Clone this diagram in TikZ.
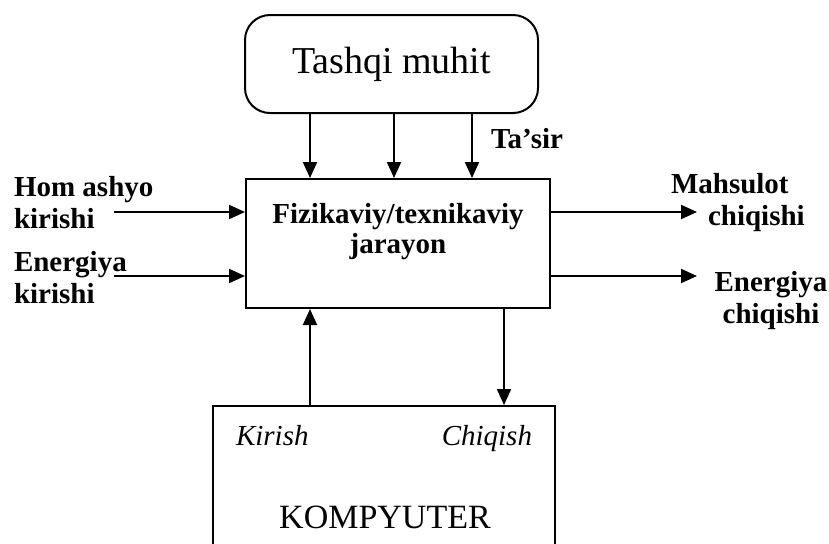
\documentclass[tikz,border=0pt]{standalone}
\usepackage{fontspec}
\setmainfont{Liberation Serif}
\usetikzlibrary{arrows.meta}

\begin{document}
\begin{tikzpicture}[x=0.5pt,y=-0.5pt,line width=1pt,
  flow/.style={-{Triangle[length=8pt,width=7pt]}},
  lbl/.style={font=\fontsize{14.5}{16}\selectfont\bfseries,inner sep=0pt}]
  \useasboundingbox (0,0) rectangle (829,543);

  \node[draw,rounded corners=12.5pt,minimum width=146.5pt,minimum height=49pt,
    font=\fontsize{19}{22}\selectfont] (env) at (391.5,64) {Tashqi muhit};
  \node[draw,minimum width=152pt,minimum height=64.5pt,align=center,text depth=15pt,
    font=\fontsize{14.5}{15}\selectfont\bfseries] (proc) at (398,243.5) {Fizikaviy/texnikaviy\\jarayon};
  \node[draw,minimum width=171pt,minimum height=92pt] (comp) at (384,498) {};

  % computer box texts
  \node[anchor=base west,font=\fontsize{14.5}{16}\selectfont\itshape,inner sep=0pt] (kir) at (235,445) {Kirish};
  \node[anchor=base east,font=\fontsize{14.5}{16}\selectfont\itshape,inner sep=0pt] (chiq) at (533,445) {Chiqish};
  \node[anchor=base,font=\fontsize{17}{20}\selectfont,inner sep=0pt] (kompy) at (385,528) {KOMPYUTER};

  % influence of the environment
  \draw[flow] (310,0 |- env.south) -- (310,0 |- proc.north);
  \draw[flow] (394,0 |- env.south) -- (394,0 |- proc.north);
  \draw[flow] (472,0 |- env.south) -- (472,0 |- proc.north);
  \node[lbl,anchor=base west] (tasir) at (490,148) {Ta'sir};

  % inputs
  \coordinate (in1) at (114,212);
  \coordinate (in2) at (114,276);
  \draw[flow] (in1) -- (in1 -| proc.west);
  \draw[flow] (in2) -- (in2 -| proc.west);
  \node[lbl,align=left,anchor=north west] (hom) at (13,175) {Hom ashyo\\kirishi};
  \node[lbl,align=left,anchor=north west] (enin) at (13,250) {Energiya\\kirishi};

  % outputs
  \coordinate (out1) at (697,212);
  \coordinate (out2) at (697,276);
  \draw[flow] (out1 -| proc.east) -- (out1);
  \draw[flow] (out2 -| proc.east) -- (out2);
  \node[lbl,align=left,anchor=north west] (mahs) at (670,172) {Mahsulot\\\hspace*{18.5pt}chiqishi};
  \node[lbl,align=center,anchor=north] (enout) at (771,270) {Energiya\\chiqishi};

  % computer link
  \draw[flow] (310,0 |- comp.north) -- (310,0 |- proc.south);
  \draw[flow] (504,0 |- proc.south) -- (504,0 |- comp.north);
\end{tikzpicture}
\end{document}
